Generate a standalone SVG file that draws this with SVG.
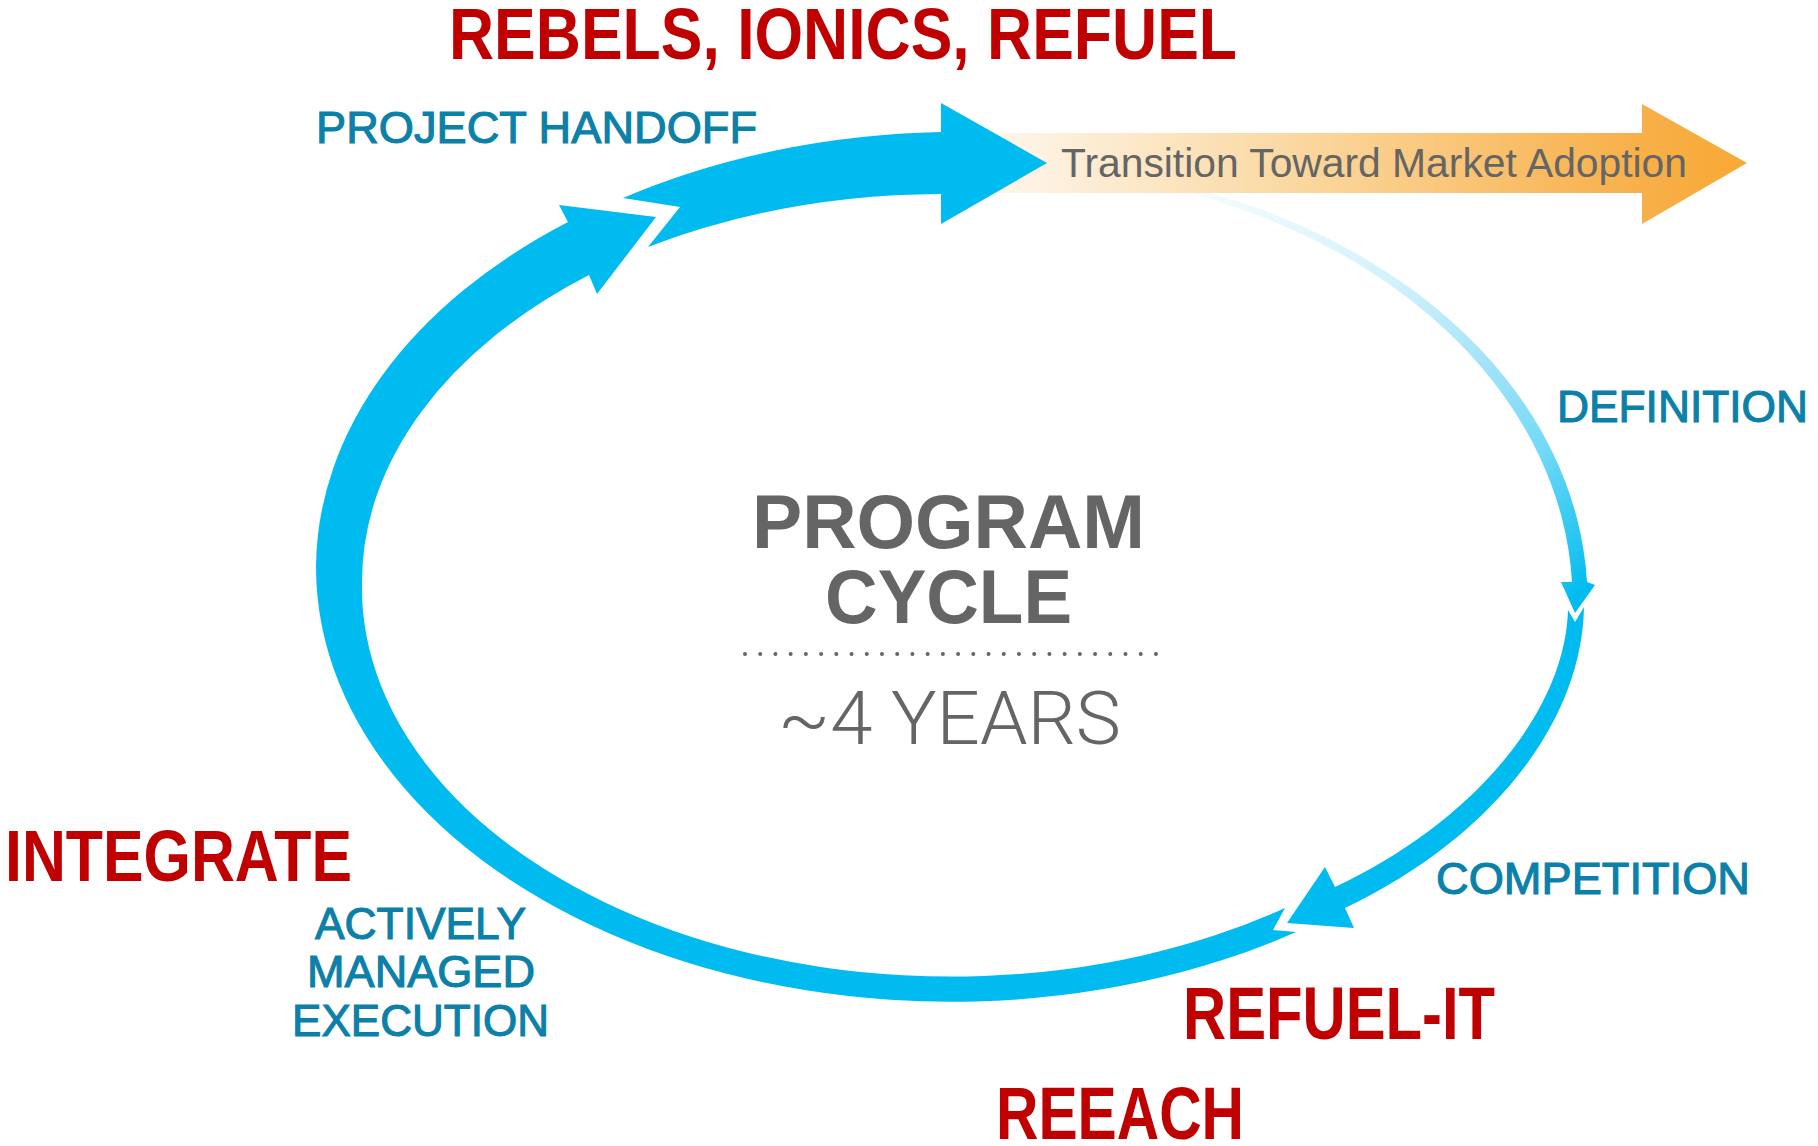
<svg xmlns="http://www.w3.org/2000/svg" width="1818" height="1146" viewBox="0 0 1818 1146">
  <defs>
    <linearGradient id="marketFill" gradientUnits="userSpaceOnUse" x1="994" y1="0" x2="1747" y2="0">
      <stop offset="0" stop-color="#fef6ec"/>
      <stop offset="0.45" stop-color="#fad497"/>
      <stop offset="0.85" stop-color="#f8b04a"/>
      <stop offset="1" stop-color="#f7a934"/>
    </linearGradient>
    <linearGradient id="definitionFill" gradientUnits="userSpaceOnUse" x1="1200" y1="195" x2="1575" y2="600">
      <stop offset="0" stop-color="#f4fcff"/>
      <stop offset="0.35" stop-color="#d2f2fc"/>
      <stop offset="0.55" stop-color="#a9e5f8"/>
      <stop offset="0.76" stop-color="#74d9f6"/>
      <stop offset="0.94" stop-color="#1ec3f1"/>
      <stop offset="1" stop-color="#00bbf0"/>
    </linearGradient>
  </defs>
  <style>
    .cyc { fill: #00bbf0; }
    .red { font-family: "Liberation Sans", Arial, sans-serif; font-weight: bold; fill: #c00000; }
    .blue { font-family: "Liberation Sans", Arial, sans-serif; fill: #0b80a8; stroke: #0b80a8; stroke-width: 1.1px; font-size: 45px; }
    .gray { font-family: "Liberation Sans", Arial, sans-serif; fill: #656565; }
  </style>

  <rect width="1818" height="1146" fill="#ffffff"/>

  <g id="connectors">
    <!-- definition arc, fading in from behind the market arrow -->
    <path id="arc-definition" fill="url(#definitionFill)"
          d="M 1180,185 A 588 437 0 0 1 1587,582 L 1595,585 L 1575,613 L 1561,582 L 1572,582 A 573 432 0 0 0 1180,191 Z"/>
    <!-- competition arc -->
    <path id="arc-competition" class="cyc"
          d="M 1568,610 L 1575,622 L 1584,607 C 1582,725 1488,840 1345,908 L 1354,928 L 1287,923 L 1325,867 L 1335,887 C 1468,825 1565,715 1568,610 Z"/>
    <!-- execution arc, around the bottom and left -->
    <path id="arc-execution" class="cyc"
          d="M 1296,932 A 635 435 0 0 1 316,567 A 635 435 0 0 1 568,222 L 559,205 L 656,217 L 597,294 L 589,275 A 589 389 0 0 0 362,582 A 589 389 0 0 0 1285,908 L 1273,930 Z"/>
    <!-- market transition arrow -->
    <path id="arrow-market" fill="url(#marketFill)"
          d="M 994,133 L 1642,133 L 1642,104 L 1747,163 L 1642,224 L 1642,193 L 994,193 Z"/>
    <!-- handoff arc -->
    <path id="arc-handoff" class="cyc"
          d="M 623,198 A 635 435 0 0 1 941,132 L 941,103 L 1047,163 L 941,224 L 941,194 A 589 389 0 0 0 648,247 L 680,207 Z"/>
  </g>

  <g id="node-title">
    <text class="red" x="449" y="59" font-size="73" textLength="788" lengthAdjust="spacingAndGlyphs">REBELS, IONICS, REFUEL</text>
  </g>

  <g id="node-handoff">
    <text class="blue" x="316" y="143" font-size="46" textLength="441" lengthAdjust="spacingAndGlyphs">PROJECT HANDOFF</text>
  </g>

  <g id="node-market">
    <text class="gray" x="1061" y="177" font-size="40" textLength="626" lengthAdjust="spacingAndGlyphs">Transition Toward Market Adoption</text>
  </g>

  <g id="node-definition">
    <text class="blue" x="1557" y="422" font-size="46" textLength="251" lengthAdjust="spacingAndGlyphs">DEFINITION</text>
  </g>

  <g id="node-competition">
    <text class="blue" x="1436" y="894" textLength="314" lengthAdjust="spacingAndGlyphs">COMPETITION</text>
  </g>

  <g id="node-integrate">
    <text class="red" x="5" y="881" font-size="72" textLength="347" lengthAdjust="spacingAndGlyphs">INTEGRATE</text>
  </g>

  <g id="node-execution">
    <text class="blue" x="315" y="939" textLength="211" lengthAdjust="spacingAndGlyphs">ACTIVELY</text>
    <text class="blue" x="307" y="987" textLength="228" lengthAdjust="spacingAndGlyphs">MANAGED</text>
    <text class="blue" x="292" y="1036" textLength="257" lengthAdjust="spacingAndGlyphs">EXECUTION</text>
  </g>

  <g id="node-refuel-it">
    <text class="red" x="1183" y="1039" font-size="74" textLength="312" lengthAdjust="spacingAndGlyphs">REFUEL-IT</text>
  </g>

  <g id="node-reeach">
    <text class="red" x="996" y="1139" font-size="74" textLength="248" lengthAdjust="spacingAndGlyphs">REEACH</text>
  </g>

  <g id="node-center">
    <text class="gray" x="752" y="548" font-size="76" font-weight="bold" textLength="393" lengthAdjust="spacingAndGlyphs">PROGRAM</text>
    <text class="gray" x="825" y="623" font-size="76" font-weight="bold" textLength="247" lengthAdjust="spacingAndGlyphs">CYCLE</text>
    <line x1="745" y1="654" x2="1156" y2="654" stroke="#656565" stroke-width="4" stroke-linecap="round" stroke-dasharray="0 15.22"/>
    <text x="778" y="744" font-family="Roboto, 'Liberation Sans', sans-serif" font-weight="300" font-size="74" fill="#656565" textLength="343" lengthAdjust="spacingAndGlyphs">~4 YEARS</text>
  </g>
</svg>
